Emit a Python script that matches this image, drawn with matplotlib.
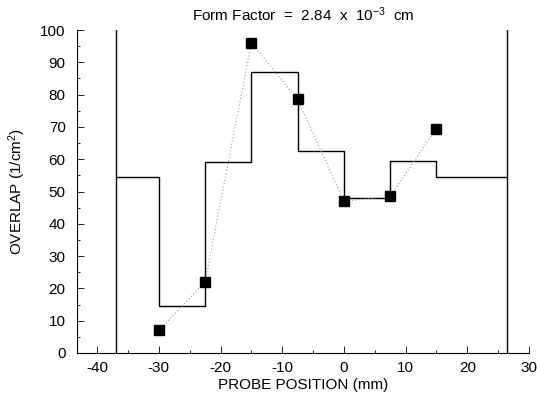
import matplotlib
matplotlib.use("Agg")
import matplotlib.pyplot as plt
from matplotlib.ticker import MultipleLocator

plt.rcParams['font.family'] = ['Liberation Sans', 'DejaVu Sans']
plt.rcParams['axes.unicode_minus'] = False
plt.rcParams['mathtext.fontset'] = 'custom'
plt.rcParams['mathtext.rm'] = 'Liberation Sans'
plt.rcParams['mathtext.default'] = 'regular'

# Step (histogram) profile
step_edges = [-37, -30, -22.5, -15, -7.5, 0, 7.5, 15, 26.5]
step_values = [54.5, 14.5, 59, 87, 62.5, 48, 59.5, 54.5]
wall_positions = [-37, 26.5]
wall_top = 100

# Measured points
probe_x = [-30, -22.5, -15, -7.5, 0, 7.5, 15]
overlap_y = [7, 22, 96, 78.5, 47, 48.5, 69.5]

fig = plt.figure(figsize=(5.37, 4.0), dpi=100)
ax = fig.add_axes([0.143, 0.1175, 0.842, 0.8075])

# step line
xs, ys = [], []
for i, v in enumerate(step_values):
    xs += [step_edges[i], step_edges[i + 1]]
    ys += [v, v]
ax.plot(xs, ys, color='black', lw=1.0)
for wx in wall_positions:
    ax.plot([wx, wx], [0, wall_top], color='black', lw=1.0)

ax.plot(probe_x, overlap_y, color='#999999', lw=0.8, ls=(0, (1, 2)))
ax.plot(probe_x, overlap_y, ls='none', marker='s', ms=7, color='black')

ax.set_xlim(-43.3, 30)
ax.set_ylim(0, 100)
ax.xaxis.set_major_locator(MultipleLocator(10))
ax.xaxis.set_minor_locator(MultipleLocator(5))
ax.yaxis.set_major_locator(MultipleLocator(10))
ax.yaxis.set_minor_locator(MultipleLocator(5))
ax.tick_params(which='both', direction='in', width=0.6, labelsize=11)
ax.tick_params(axis='x', pad=6)
ax.tick_params(axis='y', pad=8)
ax.tick_params(which='major', length=5)
ax.tick_params(which='minor', length=2.5)
ax.spines['top'].set_visible(False)
ax.spines['right'].set_visible(False)
ax.spines['left'].set_linewidth(0.8)
ax.spines['bottom'].set_linewidth(0.8)

ax.set_xlabel('PROBE POSITION (mm)', fontsize=11, labelpad=2)
ax.set_ylabel('OVERLAP (1/cm$^2$)', fontsize=11, labelpad=9)
fig.text(0.565, 0.963, 'Form Factor  =  2.84  x  10$^{-3}$  cm', ha='center', va='center', fontsize=11)

fig.savefig('out.png', dpi=100)
